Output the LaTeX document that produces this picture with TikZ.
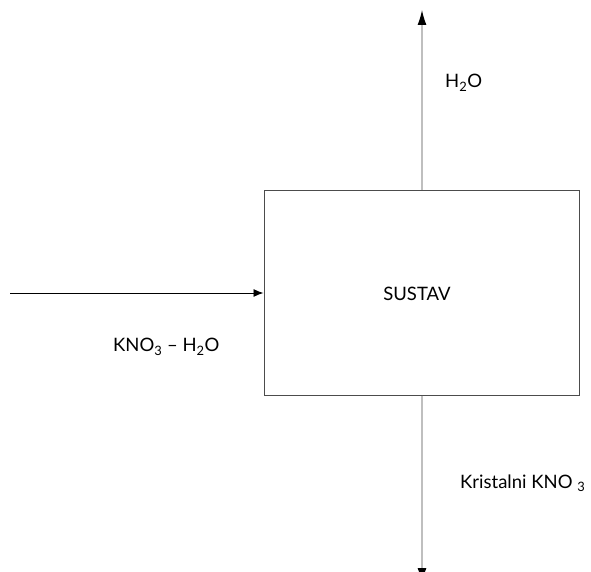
\documentclass[tikz,border=0pt]{standalone}
\usepackage{fontspec}
\setmainfont{Lato}
\usetikzlibrary{arrows.meta}
\begin{document}
\begin{tikzpicture}[x=1pt,y=-1pt,
  lbl/.style={font=\fontsize{18.5}{22}\selectfont, inner sep=0pt},
  flow/.style={draw=black!25, line width=1.2pt, -{Latex[length=15pt,width=9pt,black]}},
  feed/.style={draw=black, line width=0.9pt, -{Latex[length=10pt,width=8pt]}}]
\useasboundingbox (0,0) rectangle (591,572);
\node[draw=black!70, line width=1pt, minimum width=315pt, minimum height=205pt, inner sep=0pt] (box) at (421.5,292.5) {};
\node[lbl] (sustav) at (417,294) {SUSTAV};
\coordinate (top) at (422,10);
\coordinate (bot) at (422,583);
\coordinate (in) at (10,293);
\draw[flow] (box.north -| top) -- (top);
\draw[flow] (box.south -| bot) -- (bot);
\draw[feed] (in) -- (in -| box.west);
\node[lbl, anchor=west] (h2o) at (445,83) {H\textsubscript{2}O};
\node[lbl, anchor=west] (feedlbl) at (113,347) {KNO\textsubscript{3} – H\textsubscript{2}O};
\node[lbl, anchor=west] (prod) at (460,483) {Kristalni KNO \textsubscript{3}};
\end{tikzpicture}
\end{document}
